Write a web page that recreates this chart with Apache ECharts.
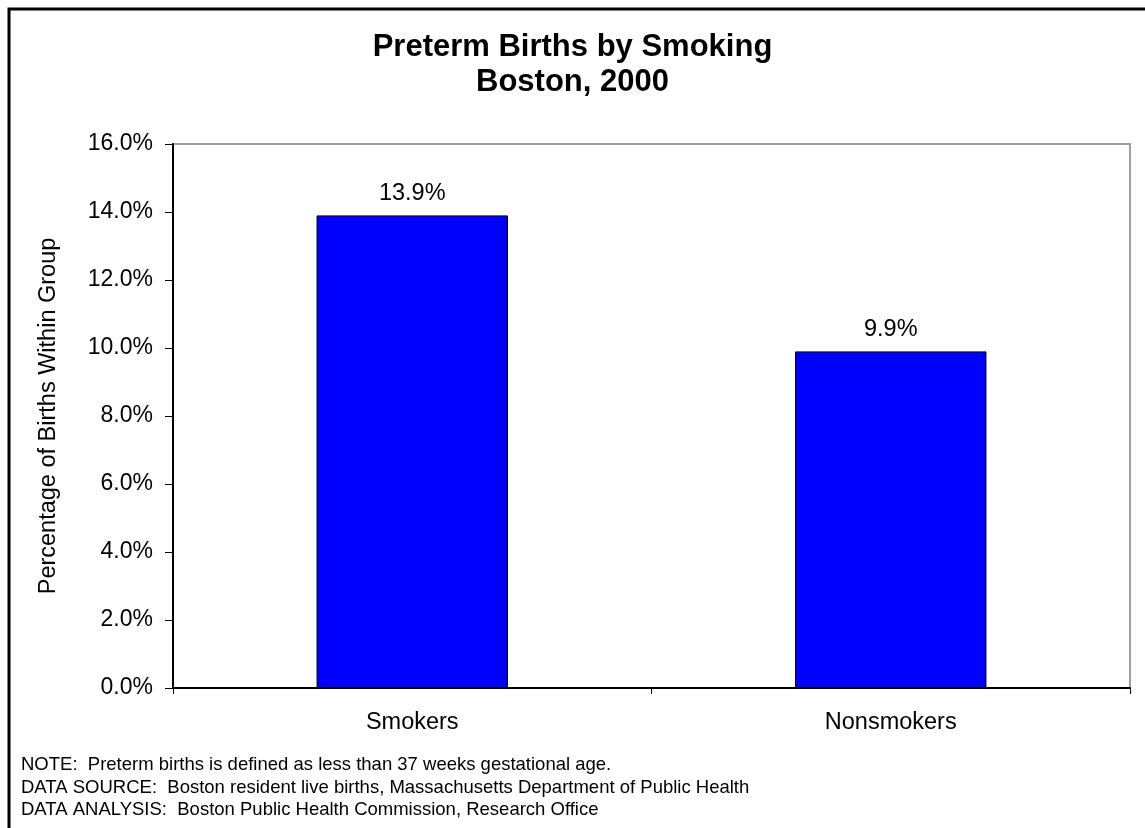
<!DOCTYPE html>
<html>
<head>
<meta charset="utf-8">
<script src="https://cdn.jsdelivr.net/npm/echarts@6/dist/echarts.min.js"></script>
<style>
html,body{margin:0;padding:0;background:#fff;}
#chart{width:1145px;height:828px;}
</style>
</head>
<body>
<div id="chart"></div>
<script>
const categories = ['Smokers', 'Nonsmokers'];
const values = [13.9, 9.9];
const titleLines = ['Preterm Births by Smoking', 'Boston, 2000'];
const yAxisName = 'Percentage of Births Within Group';
const notes = [
  'NOTE:  Preterm births is defined as less than 37 weeks gestational age.',
  'DATA SOURCE:  Boston resident live births, Massachusetts Department of Public Health',
  'DATA ANALYSIS:  Boston Public Health Commission, Research Office'
];

const font = 'Liberation Sans, Arial, sans-serif';
const chart = echarts.init(document.getElementById('chart'));
chart.setOption({
  animation: false,
  backgroundColor: '#fff',
  title: {
    text: titleLines.join('\n'),
    left: 'center',
    top: 25,
    textStyle: {fontFamily: font, fontSize: 31, fontWeight: 'bold', color: '#000', lineHeight: 35}
  },
  grid: {left: 173, top: 144, right: 15, bottom: 140, show: true, borderColor: '#a0a0a0', borderWidth: 2, backgroundColor: '#fff'},
  xAxis: {
    type: 'category',
    data: categories,
    axisLine: {lineStyle: {color: '#000', width: 2}},
    axisTick: {show: true, length: 6, lineStyle: {color: '#000'}},
    axisLabel: {margin: 23, fontFamily: font, fontSize: 23.5, color: '#000'}
  },
  yAxis: {
    type: 'value',
    min: 0, max: 16, interval: 2,
    name: yAxisName,
    nameLocation: 'middle',
    nameGap: 112,
    nameTextStyle: {fontFamily: font, fontSize: 23.5, color: '#000'},
    axisLine: {show: true, lineStyle: {color: '#000', width: 2}},
    axisTick: {show: true, length: 8, lineStyle: {color: '#000'}},
    splitLine: {show: false},
    axisLabel: {margin: 20, fontFamily: font, fontSize: 23, color: '#000', formatter: v => v.toFixed(1) + '%'}
  },
  series: [{
    type: 'bar',
    data: values,
    barWidth: '40%',
    itemStyle: {color: '#0000ff', borderColor: '#000', borderWidth: 1},
    label: {show: true, position: 'top', distance: 10, fontFamily: font, fontSize: 23.5, color: '#000', formatter: p => p.value.toFixed(1) + '%'}
  }],
  graphic: [
    {type: 'rect', shape: {x: 9, y: 9, width: 1160, height: 840}, style: {fill: 'none', stroke: '#000', lineWidth: 3}, silent: true},
    {type: 'text', left: 21, top: 754, style: {text: notes.join('\n'), font: '18.5px ' + font, fill: '#000', lineHeight: 22.5}}
  ]
});
</script>
</body>
</html>
